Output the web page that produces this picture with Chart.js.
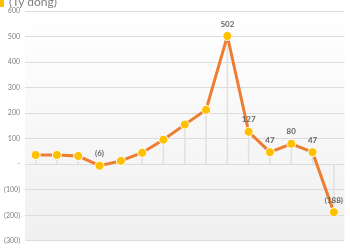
<!DOCTYPE html>
<html>
<head>
<meta charset="utf-8">
<script src="https://cdn.jsdelivr.net/npm/chart.js@4"></script>
<style>
  html, body { margin: 0; padding: 0; background: #fff; }
  #wrap { position: relative; width: 350px; height: 250px; }
  #unit { position: absolute; left: 0; top: -6px; font: 12px Lato, 'Open Sans', sans-serif; color: #7f7f7f; }
  #unit span { display: inline-block; width: 4px; height: 12px; background: #ffc000; margin-right: 5px; vertical-align: -1px; }
</style>
</head>
<body>
<div id="wrap">
  <canvas id="myChart" width="350" height="250"></canvas>
  <div id="unit"><span></span>(Tỷ đồng)</div>
</div>
<script>
'use strict';

//data
var categories = ['1', '2', '3', '4', '5', '6', '7', '8', '9', '10', '11', '12', '13', '14', '15'];
var values = [36, 36, 32, -6, 13, 45, 96, 155, 213, 502, 127, 47, 80, 47, -188];
//which points get a value label
var labelled = [false, false, false, true, false, false, false, false, false, true, true, true, true, true, true];
var yTicks = [600, 500, 400, 300, 200, 100, 0, -100, -200, -300];

//number format like the sheet: (6), -, 502
function fmt(v) {
  if (v === 0) return '-';
  if (v < 0) return '(' + Math.abs(v) + ')';
  return String(v);
}

//plot area gradient
var bgPlugin = {
  id: 'bg',
  beforeDraw: function(chart) {
    var a = chart.chartArea;
    var ctx = chart.ctx;
    var g = ctx.createLinearGradient(0, a.top, 0, a.bottom);
    g.addColorStop(0, '#ffffff');
    g.addColorStop(1, '#f0f0f0');
    ctx.save();
    ctx.fillStyle = g;
    ctx.fillRect(a.left, a.top, a.right - a.left, a.bottom - a.top);
    ctx.restore();
  }
};

//value labels above the points
var labelPlugin = {
  id: 'vlabels',
  afterDatasetsDraw: function(chart) {
    var meta = chart.getDatasetMeta(1);
    var ctx = chart.ctx;
    ctx.save();
    ctx.font = 'bold 8px Lato, "Open Sans", sans-serif';
    ctx.fillStyle = '#666666';
    ctx.textAlign = 'center';
    ctx.textBaseline = 'middle';
    for (var i = 0; i < values.length; i++) {
      if (!labelled[i]) continue;
      var p = meta.data[i];
      ctx.fillText(fmt(values[i]), p.x, p.y - 12);
    }
    ctx.restore();
  }
};

var ctx = document.getElementById('myChart').getContext('2d');
//eslint-disable-next-line no-undef, no-unused-vars
var chart = new Chart(ctx, {
  data: {
    labels: categories,
    datasets: [{
      //drop lines from the zero line to each point
      type: 'bar',
      data: values,
      backgroundColor: '#e2e2e2',
      barThickness: 1,
      order: 2
    }, {
      type: 'line',
      data: values,
      borderColor: '#ed7d31',
      borderWidth: 3,
      pointBackgroundColor: '#ffc000',
      pointBorderColor: '#ffffff',
      pointBorderWidth: 1,
      pointRadius: 4.5,
      tension: 0,
      order: 1
    }]
  },
  options: {
    responsive: false,
    animation: false,
    layout: { padding: { top: 11, bottom: 3, right: 2, left: 0 } },
    plugins: { legend: { display: false }, tooltip: { enabled: false } },
    scales: {
      x: {
        display: false,
        offset: true
      },
      y: {
        min: -300,
        max: 600,
        afterFit: function(scale) { scale.width = 25; },
        afterBuildTicks: function(scale) {
          scale.ticks = yTicks.map(function(v) { return { value: v }; });
        },
        border: { display: false },
        grid: { color: '#dcdcdc', drawTicks: false },
        ticks: {
          padding: 5,
          color: '#7f7f7f',
          font: { size: 7, family: 'Lato, "Open Sans", sans-serif' },
          callback: function(v) { return fmt(v); }
        }
      }
    }
  },
  plugins: [bgPlugin, labelPlugin]
});
</script>
</body>
</html>
